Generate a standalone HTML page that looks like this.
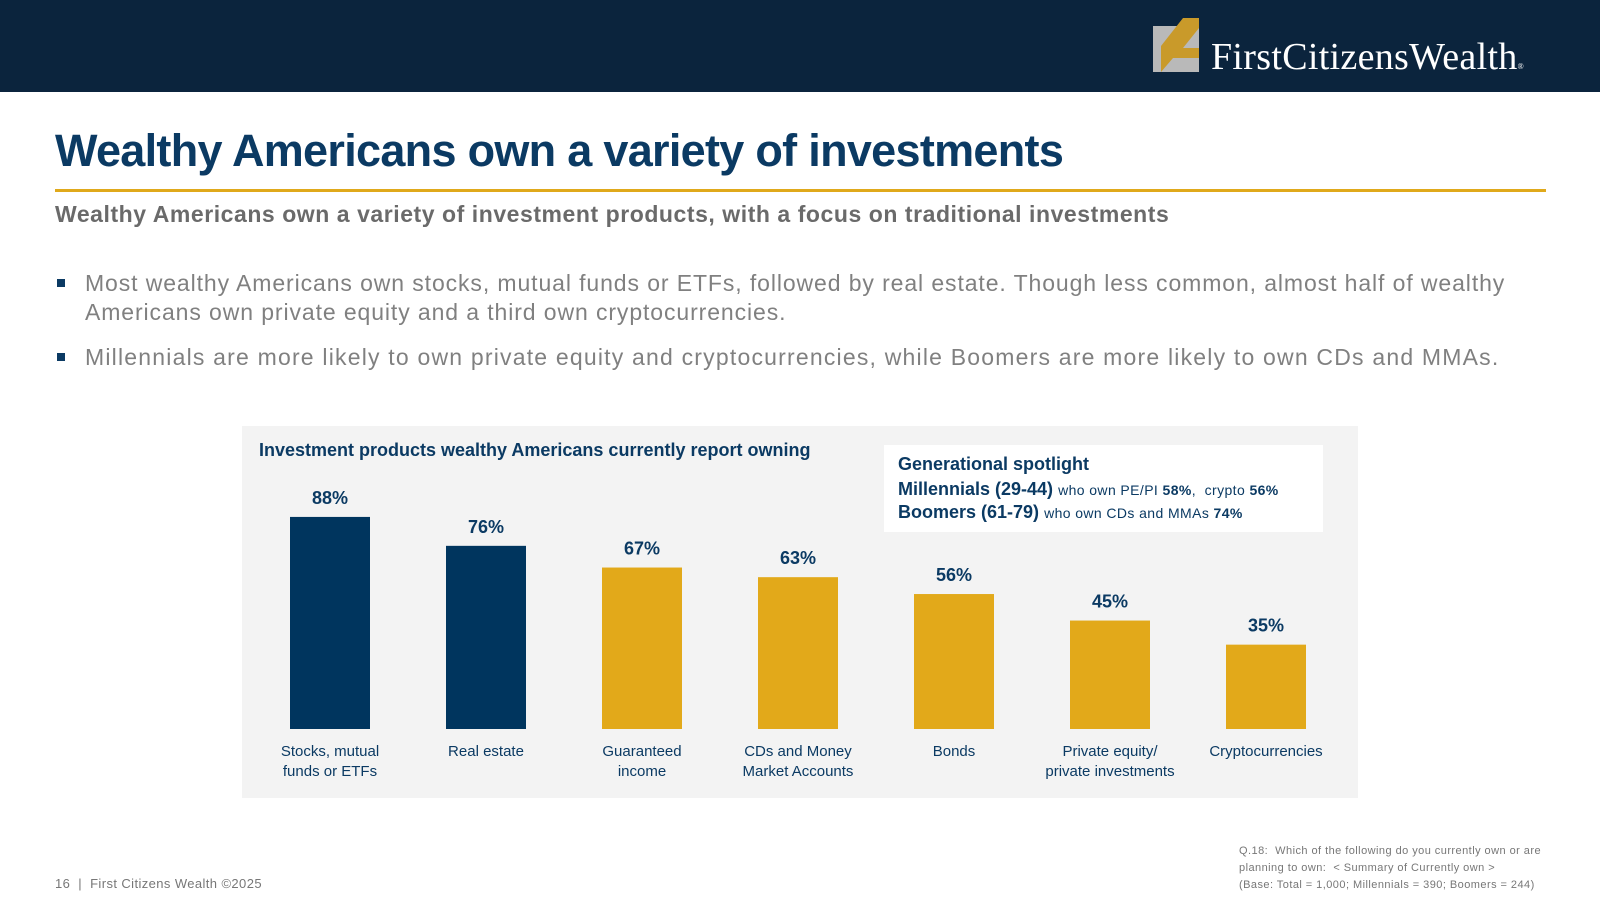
<!DOCTYPE html>
<html><head><meta charset="utf-8"><style>
body{margin:0;width:1600px;height:900px;position:relative;background:#fff;font-family:"Liberation Sans",sans-serif;overflow:hidden}
.abs{position:absolute}
</style></head><body>
<div class="abs" style="left:0;top:0;width:1600px;height:92px;background:#0b243d"></div>
<div class="abs" style="left:1153px;top:18px;width:1400px">
<svg width="52" height="56" style="position:absolute;left:0;top:0">
<rect x="0" y="8" width="46" height="46" fill="#b9b9b9"/><polygon points="8,54 20,40 46,40 46,30 30,30 46,10 46,0 30,0 8,28" fill="#c99a2a"/></svg>
<div class="abs" style="left:58px;top:17px;color:#fff;font-family:'Liberation Serif',serif;font-size:38px;white-space:nowrap;letter-spacing:0.3px">FirstCitizensWealth<span style="font-size:8px">®</span></div>
</div>
<div class="abs" style="left:55px;top:125px;font-size:45px;font-weight:bold;color:#0b3a63;letter-spacing:-0.7px">Wealthy Americans own a variety of investments</div>
<div class="abs" style="left:55px;top:189px;width:1491px;height:3px;background:#e0a91b"></div>
<div class="abs" style="left:55px;top:201px;font-size:23px;font-weight:bold;color:#6a6a6a;letter-spacing:0.55px">Wealthy Americans own a variety of investment products, with a focus on traditional investments</div>
<div class="abs" style="left:85px;top:269px;width:1480px;font-size:23px;line-height:29px;color:#808080;letter-spacing:0.9px">Most wealthy Americans own stocks, mutual funds or ETFs, followed by real estate. Though less common, almost half of wealthy Americans own private equity and a third own cryptocurrencies.</div>
<div class="abs" style="left:85px;top:343px;font-size:23px;line-height:29px;color:#808080;letter-spacing:1.2px;white-space:nowrap">Millennials are more likely to own private equity and cryptocurrencies, while Boomers are more likely to own CDs and MMAs.</div>
<div class="abs" style="left:57px;top:279px;width:8px;height:8px;background:#0b3a63"></div>
<div class="abs" style="left:57px;top:353px;width:8px;height:8px;background:#0b3a63"></div>

<div class="abs" style="left:242px;top:426px;width:1116px;height:372px;background:#f3f3f3"></div>
<div class="abs" style="left:259px;top:440px;font-size:18px;font-weight:bold;color:#0b3a63">Investment products wealthy Americans currently report owning</div>
<div class="abs" style="left:884px;top:445px;width:439px;height:87px;background:#fff;color:#0b3a63">
<div style="position:absolute;left:14px;top:9px;font-size:18px;font-weight:bold">Generational spotlight</div>
<div style="position:absolute;left:14px;top:34px;font-size:18px;white-space:nowrap"><b>Millennials (29-44)</b> <span style="font-size:14px;letter-spacing:0.4px">who own PE/PI <b>58%</b>,&nbsp; crypto <b>56%</b></span></div>
<div style="position:absolute;left:14px;top:57px;font-size:18px;white-space:nowrap"><b>Boomers (61-79)</b> <span style="font-size:14px;letter-spacing:0.4px">who own CDs and MMAs <b>74%</b></span></div>
</div>
<svg id="chart" class="abs" style="left:0;top:0" width="1600" height="900"></svg>
<div class="abs" style="left:55px;top:876px;font-size:13px;color:#777;letter-spacing:0.4px">16 &nbsp;|&nbsp; First Citizens Wealth ©2025</div>
<div class="abs" style="left:1239px;top:843px;font-size:11px;line-height:17px;color:#777;letter-spacing:0.45px">Q.18:&nbsp; Which of the following do you currently own or are<br>planning to own:&nbsp; &lt; Summary of Currently own &gt;<br>(Base: Total = 1,000; Millennials = 390; Boomers = 244)</div>
<script>
const categories=[["Stocks, mutual","funds or ETFs"],["Real estate"],["Guaranteed","income"],["CDs and Money","Market Accounts"],["Bonds"],["Private equity/","private investments"],["Cryptocurrencies"]];
const values=[88,76,67,63,56,45,35];
const highlight=[1,1,0,0,0,0,0];
const ns="http://www.w3.org/2000/svg";
const svg=document.getElementById('chart');
const baseY=729, pxPer=2.41, x0=330, step=156, bw=80;
const xAt=i=>x0+i*step;
const yAt=v=>baseY-v*pxPer;
values.forEach((v,i)=>{
 const cx=xAt(i);
 const r=document.createElementNS(ns,'rect');
 r.setAttribute('x',cx-bw/2);r.setAttribute('y',yAt(v));r.setAttribute('width',bw);r.setAttribute('height',baseY-yAt(v));
 r.setAttribute('fill',highlight[i]?'#00355e':'#e2a91a');
 
 
 svg.appendChild(r);
 const t=document.createElementNS(ns,'text');
 t.setAttribute('x',cx);t.setAttribute('y',yAt(v)-13);t.setAttribute('text-anchor','middle');
 t.setAttribute('font-size','18');t.setAttribute('font-weight','bold');t.setAttribute('fill','#0b3a63');
 t.setAttribute('font-family','Liberation Sans, sans-serif');
 t.textContent=v+'%';
 
 
 svg.appendChild(t);
 categories[i].forEach((ln,j)=>{
  const c=document.createElementNS(ns,'text');
  c.setAttribute('x',cx);c.setAttribute('y',756+j*20);c.setAttribute('text-anchor','middle');
  c.setAttribute('font-size','15');c.setAttribute('fill','#0b3a63');
  c.setAttribute('font-family','Liberation Sans, sans-serif');
  c.textContent=ln;
  
  
  svg.appendChild(c);
 });
});
</script>
</body></html>
